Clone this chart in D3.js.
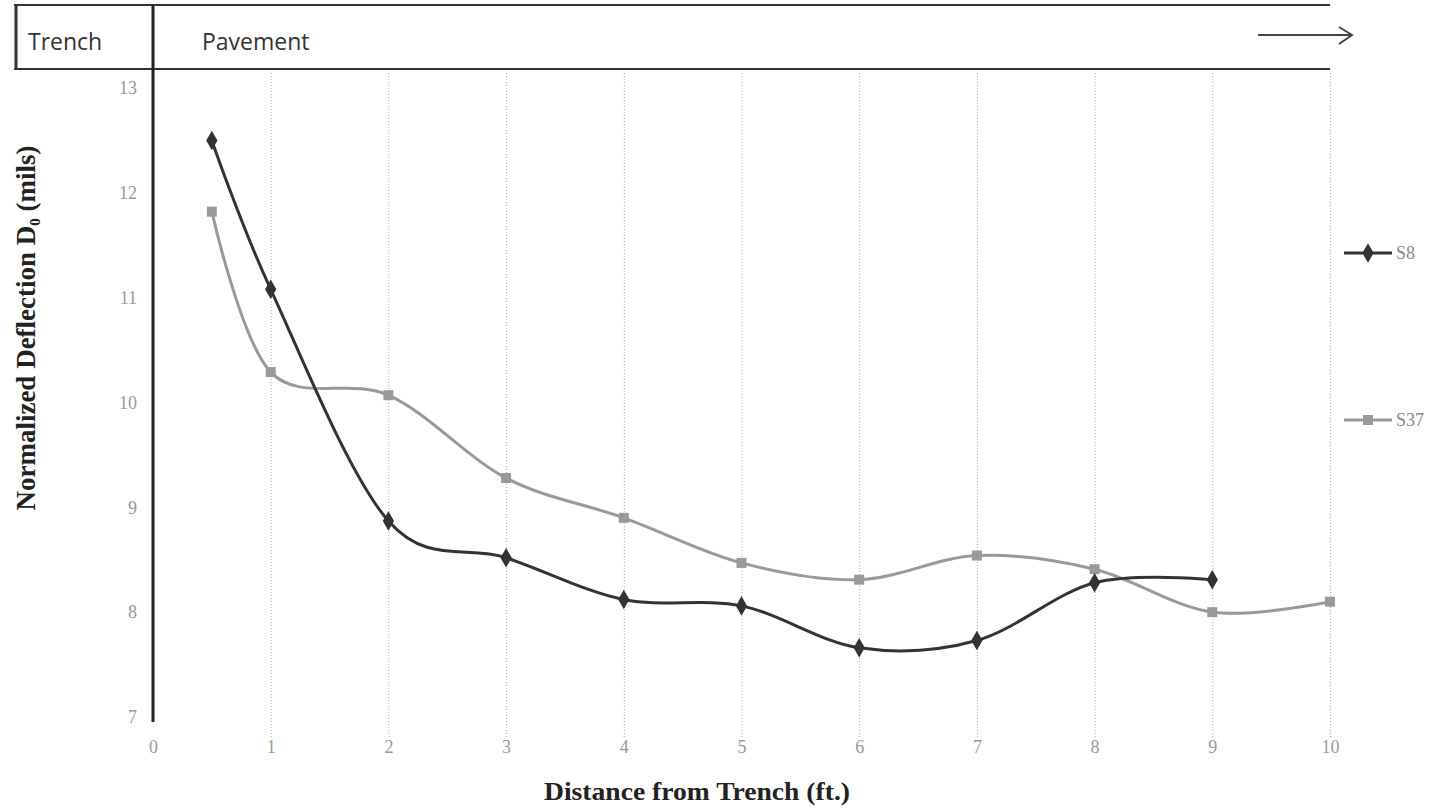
<!DOCTYPE html>
<html>
<head>
<meta charset="utf-8">
<script src="https://cdn.jsdelivr.net/npm/d3@7"></script>
<style>
  body { margin: 0; background: #fff; }
</style>
</head>
<body>
<div id="chart"></div>
<script>
// distances (ft.) and normalized deflections (mils)
const s8X = [0.5, 1, 2, 3, 4, 5, 6, 7, 8, 9]
const s8Y = [12.5, 11.08, 8.87, 8.52, 8.12, 8.06, 7.66, 7.73, 8.28, 8.31]
const s37X = [0.5, 1, 2, 3, 4, 5, 6, 7, 8, 9, 10]
const s37Y = [11.82, 10.29, 10.07, 9.28, 8.9, 8.47, 8.31, 8.54, 8.41, 8.0, 8.1]
const xTicks = [0, 1, 2, 3, 4, 5, 6, 7, 8, 9, 10]
const yTicks = [7, 8, 9, 10, 11, 12, 13]
const seriesNames = ['S8', 'S37']

const W = 1442, H = 811
const serif = "'Liberation Serif', 'DejaVu Serif', serif"
const svg = d3.select('#chart').append('svg').attr('width', W).attr('height', H)

const x = d3.scaleLinear().domain([0, 10]).range([153, 1330])
const y = d3.scaleLinear().domain([7, 13]).range([717, 88])

// vertical grid
svg.append('g')
  .attr('transform', 'translate(0,737)')
  .call(d3.axisBottom(x).tickValues(xTicks.slice(1)).tickSize(-665).tickFormat(''))
  .call(g => g.select('.domain').remove())
  .call(g => g.selectAll('line').attr('stroke', '#aaa').attr('stroke-dasharray', '1,2'))

// header band
const hdr = svg.append('g')
hdr.append('line').attr('x1', 14).attr('x2', 1330).attr('y1', 5).attr('y2', 5).attr('stroke', '#333').attr('stroke-width', 2)
hdr.append('line').attr('x1', 14).attr('x2', 1330).attr('y1', 69).attr('y2', 69).attr('stroke', '#333').attr('stroke-width', 2)
hdr.append('line').attr('x1', 16).attr('x2', 16).attr('y1', 5).attr('y2', 69).attr('stroke', '#333').attr('stroke-width', 3)
hdr.append('text').attr('x', 28).attr('y', 50).text('Trench')
  .style('font-family', "'Open Sans', sans-serif").style('font-size', '23px').style('fill', '#333')
hdr.append('text').attr('x', 202).attr('y', 50).text('Pavement')
  .style('font-family', "'Open Sans', sans-serif").style('font-size', '23px').style('fill', '#333')
hdr.append('line').attr('x1', 1258).attr('x2', 1351).attr('y1', 35).attr('y2', 35).attr('stroke', '#444').attr('stroke-width', 2)
hdr.append('path').attr('d', 'M1339,27 L1352,35 L1339,44').attr('fill', 'none').attr('stroke', '#444').attr('stroke-width', 2)

// y axis
svg.append('g')
  .attr('transform', 'translate(137,0)')
  .call(d3.axisLeft(y).tickValues(yTicks).tickSize(0).tickPadding(0).tickFormat(d3.format('d')))
  .call(g => g.select('.domain').remove())
  .call(g => g.selectAll('text').attr('fill', '#999').style('font-family', serif).style('font-size', '18px'))
svg.append('line').attr('x1', 153).attr('x2', 153).attr('y1', 5).attr('y2', 722)
  .attr('stroke', '#222').attr('stroke-width', 3)

// x axis labels
svg.append('g')
  .attr('transform', 'translate(0,740)')
  .call(d3.axisBottom(x).tickValues(xTicks).tickSize(0).tickPadding(0))
  .call(g => g.select('.domain').remove())
  .call(g => g.selectAll('text').attr('fill', '#999').style('font-family', serif).style('font-size', '18px'))

// titles
svg.append('text').attr('x', 697).attr('y', 800).attr('text-anchor', 'middle')
  .attr('textLength', 306).attr('lengthAdjust', 'spacingAndGlyphs')
  .text('Distance from Trench (ft.)')
  .style('font-family', serif).style('font-weight', 'bold').style('font-size', '25px').style('fill', '#222')
const yt = svg.append('text').attr('transform', 'translate(35,328) rotate(-90)').attr('text-anchor', 'middle')
  .style('font-family', serif).style('font-weight', 'bold').style('font-size', '27px').style('fill', '#222')
yt.append('tspan').text('Normalized Deflection D')
yt.append('tspan').text('0').attr('dy', 5).style('font-size', '15px')
yt.append('tspan').text(' (mils)').attr('dy', -5)

const line = d3.line().x(d => x(d[0])).y(d => y(d[1])).curve(d3.curveCardinal.tension(0))

const series = [
  {name: seriesNames[0], xs: s8X, ys: s8Y, color: '#333', shape: d3.symbolDiamond},
  {name: seriesNames[1], xs: s37X, ys: s37Y, color: '#999', shape: d3.symbolSquare}
]
series.slice().reverse().forEach(s => {
  const pts = s.xs.map((v, i) => [v, s.ys[i]])
  svg.append('path').attr('d', line(pts)).attr('fill', 'none').attr('stroke', s.color).attr('stroke-width', 3)
  svg.append('g').selectAll('path').data(pts).join('path')
    .attr('transform', d => `translate(${x(d[0])},${y(d[1])})`)
    .attr('d', d3.symbol().type(s.shape).size(s.shape === d3.symbolSquare ? 100 : 110))
    .attr('fill', s.color)
})

// legend
const legY = [253, 420]
series.forEach((s, i) => {
  const g = svg.append('g').attr('transform', `translate(1344,${legY[i]})`)
  g.append('line').attr('x1', 0).attr('x2', 48).attr('stroke', s.color).attr('stroke-width', 3)
  g.append('path').attr('transform', 'translate(24,0)')
    .attr('d', d3.symbol().type(s.shape).size(s.shape === d3.symbolSquare ? 100 : 110)).attr('fill', s.color)
  g.append('text').attr('x', 52).attr('y', 6).text(s.name)
    .style('font-family', serif).style('font-size', '18px').style('fill', '#888')
})
</script>
</body>
</html>
